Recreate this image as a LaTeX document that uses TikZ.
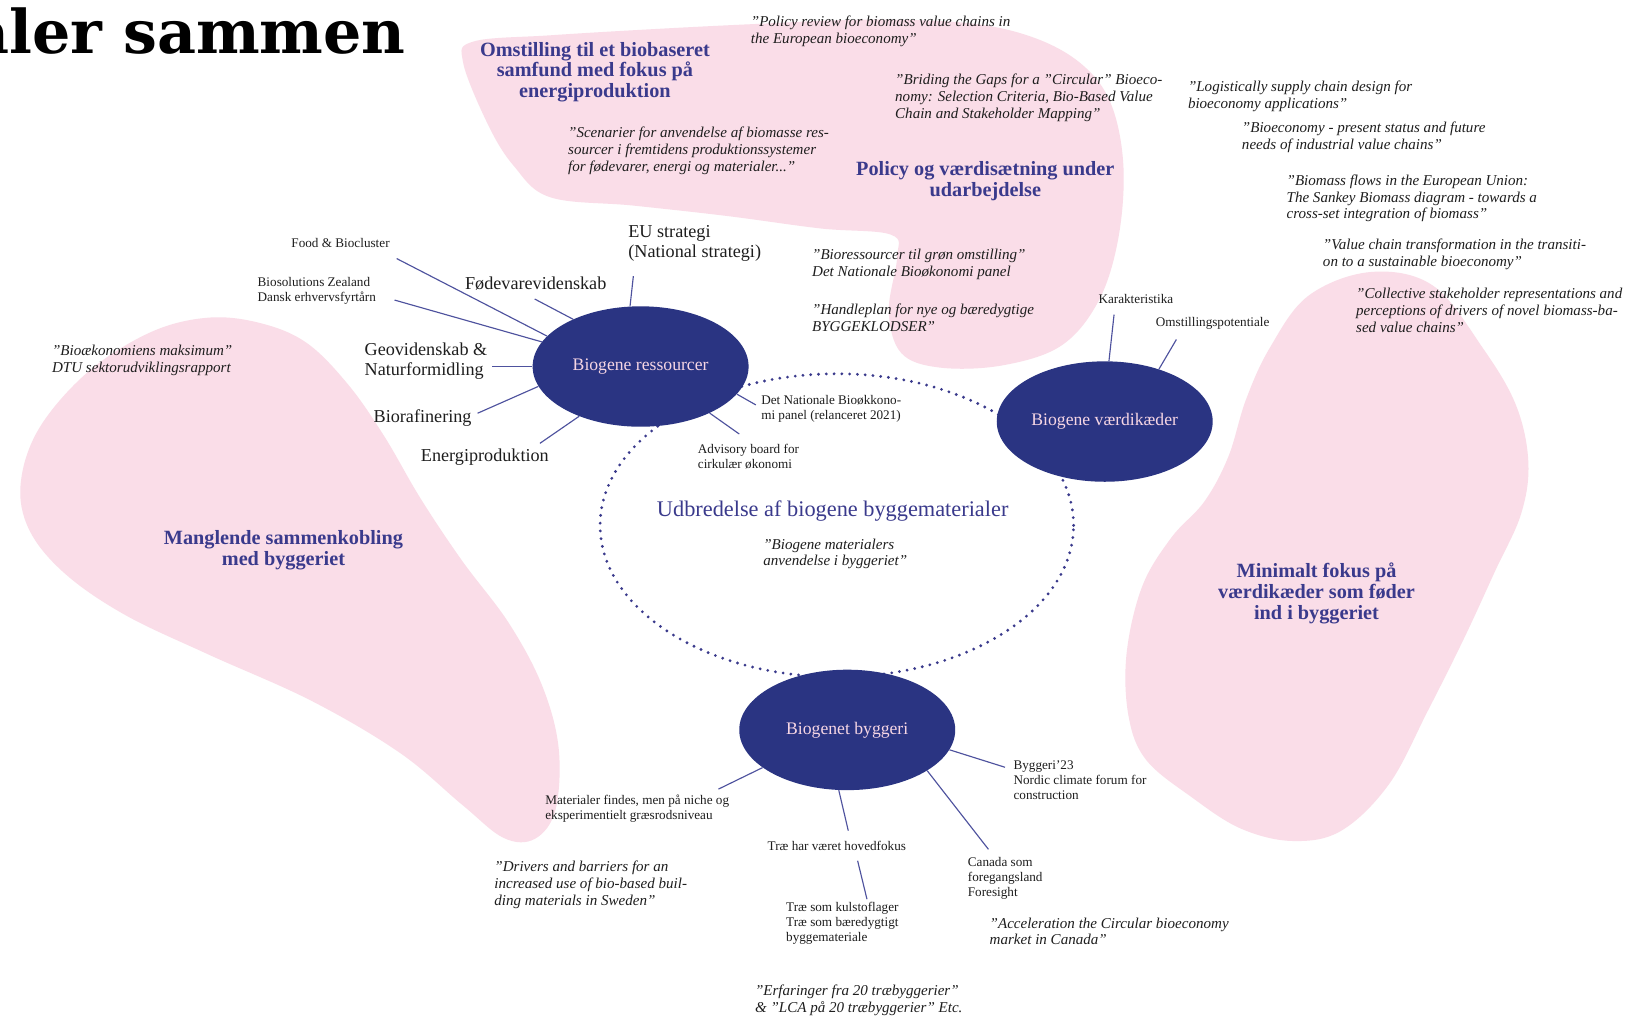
\documentclass[tikz,border=0pt]{standalone}
\usepackage{fontspec}
\setmainfont{Liberation Serif}
\newfontfamily\headfont{DejaVu Serif}
\usetikzlibrary{shapes.geometric}
\definecolor{blush}{RGB}{250,221,232}
\definecolor{navy}{RGB}{42,52,130}
\definecolor{plum}{RGB}{58,58,140}
\definecolor{ink}{RGB}{30,30,30}
\definecolor{spokecol}{RGB}{78,82,158}
\definecolor{paletext}{RGB}{246,214,228}

\begin{document}
\begin{tikzpicture}[x=1pt,y=-1pt,
  hub/.style={ellipse, fill=navy, minimum width=208pt, minimum height=116pt,
    inner sep=0pt, text=paletext, font=\fontsize{17}{18}\selectfont},
  spoke/.style={draw=spokecol, line width=1.1pt},
  ring/.style={draw=plum, line width=3pt, line cap=round, dash pattern=on 0pt off 7.5pt},
  quote/.style={font=\itshape\fontsize{14.5}{16.3}\selectfont, text=ink,
    align=left, anchor=west, inner sep=0pt},
  theme/.style={font=\bfseries\fontsize{19.5}{19.8}\selectfont, text=plum,
    align=center, inner sep=0pt},
  biglabel/.style={font=\fontsize{17.5}{19.5}\selectfont, text=ink,
    align=left, inner sep=0pt},
  smalllabel/.style={font=\fontsize{12.7}{14.5}\selectfont, text=ink,
    align=left, inner sep=0pt}]

\clip (0,0) rectangle (1568,980);
\fill[white] (0,0) rectangle (1568,980);

% heading, running off the left edge
\node[anchor=base east, inner sep=0pt, text=black,
  font=\headfont\bfseries\fontsize{58}{62}\selectfont] (heading) at (391,52) {aler sammen};

% pink theme areas
\fill[blush] plot[smooth cycle, tension=0.6] coordinates {
  (446,60) (456,40) (530,34) (630,28) (730,23) (830,19) (930,22) (995,36)
  (1042,62) (1070,100) (1082,160) (1077,230) (1058,290) (1022,333) (965,352)
  (905,354) (868,340) (856,300) (864,248) (858,226) (790,220) (700,208)
  (610,198) (530,190) (495,160) (470,120)};
\fill[blush] plot[smooth cycle, tension=0.6] coordinates {
  (200,306) (250,311) (295,330) (335,370) (370,420) (405,480) (445,540)
  (490,600) (522,660) (538,720) (535,780) (515,808) (485,807) (445,775)
  (385,725) (300,675) (200,630) (120,592) (62,552) (28,510) (20,465)
  (38,412) (85,358) (145,320)};
\fill[blush] plot[smooth cycle, tension=0.6] coordinates {
  (1260,285) (1320,262) (1380,275) (1428,335) (1460,390) (1472,445)
  (1465,495) (1440,550) (1410,615) (1375,685) (1338,755) (1292,800)
  (1245,810) (1195,798) (1148,768) (1104,732) (1087,690) (1085,630)
  (1100,565) (1128,518) (1160,483) (1183,440) (1200,385) (1223,335)};

% dotted ring joining the three hubs
\draw[ring] (806,506) ellipse [x radius=228pt, y radius=146pt];

% theme headings
\node[theme] (t-omst) at (573,69.5) {Omstilling til et biobaseret\\samfund med fokus på\\energiproduktion};
\node[theme] (t-policy) at (949,174.5) {Policy og værdisætning under\\udarbejdelse};
\node[theme] (t-mangl) at (273,530) {Manglende sammenkobling\\med byggeriet};
\node[theme] (t-minim) at (1268,571.5) {Minimalt fokus på\\værdikæder som føder\\ind i byggeriet};
\node[font=\fontsize{21.5}{23}\selectfont, text=plum, inner sep=0pt] (t-udbr) at (802,492)
  {Udbredelse af biogene byggematerialer};

% references
\node[quote] (q-policyrev) at (723,30.5) {”Policy review for biomass value chains in\\the European bioeconomy”};
\node[quote] (q-briding) at (862,94) {”Briding the Gaps for a ”Circular” Bioeco-\\nomy: Selection Criteria, Bio-Based Value\\Chain and Stakeholder Mapping”};
\node[quote] (q-scen) at (547,145) {”Scenarier for anvendelse af biomasse res-\\sourcer i fremtidens produktionssystemer\\for fødevarer, energi og materialer...”};
\node[quote] (q-biores) at (782,254.5) {”Bioressourcer til grøn omstilling”\\Det Nationale Bioøkonomi panel};
\node[quote] (q-handle) at (782,306) {”Handleplan for nye og bæredygtige\\BYGGEKLODSER”};
\node[quote] (q-logist) at (1144,93) {”Logistically supply chain design for\\bioeconomy applications”};
\node[quote] (q-bioecon) at (1196,132) {”Bioeconomy - present status and future\\needs of industrial value chains”};
\node[quote] (q-flows) at (1239,191) {”Biomass flows in the European Union:\\The Sankey Biomass diagram - towards a\\cross-set integration of biomass”};
\node[quote] (q-valuech) at (1274,245) {”Value chain transformation in the transiti-\\on to a sustainable bioeconomy”};
\node[quote] (q-collect) at (1306,299) {”Collective stakeholder representations and\\perceptions of drivers of novel biomass-ba-\\sed value chains”};
\node[quote] (q-maks) at (50,347) {”Bioækonomiens maksimum”\\DTU sektorudviklingsrapport};
\node[quote] (q-anvend) at (735,533.5) {”Biogene materialers\\anvendelse i byggeriet”};
\node[quote] (q-sweden) at (476,852) {”Drivers and barriers for an\\increased use of bio-based buil-\\ding materials in Sweden”};
\node[quote] (q-canada) at (953,897) {”Acceleration the Circular bioeconomy\\market in Canada”};
\node[quote] (q-erfar) at (727,963) {”Erfaringer fra 20 træbyggerier”\\\& ”LCA på 20 træbyggerier” Etc.};

% hubs
\node[hub] (E1) at (617,353) {Biogene ressourcer};
\node[hub] (E2) at (1064,406) {Biogene værdikæder};
\node[hub] (E3) at (816,703) {Biogenet byggeri};

% labels around "Biogene ressourcer"
\node[smalllabel] (food) at (328,234) {Food \& Biocluster};
\node[smalllabel, anchor=west] (biosol) at (248,280) {Biosolutions Zealand\\Dansk erhvervsfyrtårn};
\node[biglabel] (fode) at (516,273) {Fødevarevidenskab};
\node[biglabel, anchor=west] (eu) at (605,234.5) {EU strategi\\(National strategi)};
\node[biglabel, anchor=west] (geo) at (351,348) {Geovidenskab \&\\Naturformidling};
\node[biglabel] (biora) at (407,403) {Biorafinering};
\node[biglabel] (energi) at (467,440) {Energiproduktion};
\node[smalllabel, anchor=west] (detnat) at (733,393.5) {Det Nationale Bioøkkono-\\mi panel (relanceret 2021)};
\node[smalllabel, anchor=west] (advis) at (672,439.5) {Advisory board for\\cirkulær økonomi};

% labels around "Biogene værdikæder"
\node[smalllabel] (karak) at (1094,288) {Karakteristika};
\node[smalllabel] (omstpot) at (1168,311) {Omstillingspotentiale};

% labels around "Biogenet byggeri"
\node[smalllabel, anchor=west] (bygg) at (976,751) {Byggeri’23\\Nordic climate forum for\\construction};
\node[smalllabel, anchor=west] (mat) at (525,778.5) {Materialer findes, men på niche og\\eksperimentielt græsrodsniveau};
\node[smalllabel] (trae1) at (806,815) {Træ har været hovedfokus};
\node[smalllabel, anchor=west] (trae2) at (757,889) {Træ som kulstoflager\\Træ som bæredygtigt\\byggemateriale};
\node[smalllabel, anchor=west] (canada) at (932,846) {Canada som\\foregangsland\\Foresight};

% spoke ends next to the labels
\coordinate (food-s) at (382,249);
\coordinate (biosol-s) at (380,289);
\coordinate (fode-s) at (515,288);
\coordinate (eu-s) at (610,266);
\coordinate (geo-s) at (474,353);
\coordinate (biora-s) at (460,398);
\coordinate (energi-s) at (520,427);
\coordinate (detnat-s) at (728,390);
\coordinate (advis-s) at (712,418);
\coordinate (karak-s) at (1073,303);
\coordinate (omstpot-s) at (1133,327);
\coordinate (bygg-s) at (968,739);
\coordinate (mat-s) at (692,760);
\coordinate (trae1-s) at (817,800);
\coordinate (canada-s) at (952,818);
\coordinate (trae-a) at (826,829);
\coordinate (trae-b) at (835,866);

\draw[spoke] (food-s) -- (E1.162.7);
\draw[spoke] (biosol-s) -- (E1.166.4);
\draw[spoke] (fode-s) -- (E1.145);
\draw[spoke] (eu-s) -- (E1.100);
\draw[spoke] (geo-s) -- (E1.180);
\draw[spoke] (biora-s) -- (E1.191);
\draw[spoke] (energi-s) -- (E1.219);
\draw[spoke] (detnat-s) -- (E1.344);
\draw[spoke] (advis-s) -- (E1.326);
\draw[spoke] (karak-s) -- (E2.86);
\draw[spoke] (omstpot-s) -- (E2.44);
\draw[spoke] (bygg-s) -- (E3.349);
\draw[spoke] (mat-s) -- (E3.204.5);
\draw[spoke] (trae1-s) -- (E3.262);
\draw[spoke] (canada-s) -- (E3.333);
\draw[spoke] (trae-a) -- (trae-b);
\end{tikzpicture}
\end{document}
